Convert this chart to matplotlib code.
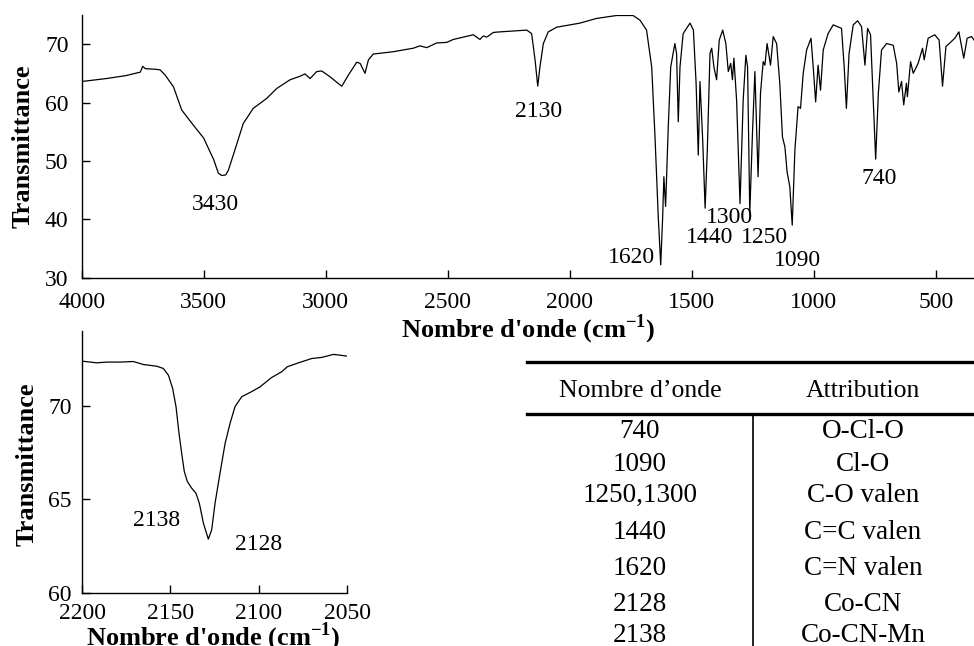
import numpy as np
import matplotlib
matplotlib.use('Agg')
import matplotlib.pyplot as plt
from matplotlib.lines import Line2D

# ── FONTS ─────────────────────────────────────────────────────────
plt.rcParams['font.family'] = ['Liberation Serif', 'DejaVu Serif']
plt.rcParams['mathtext.fontset'] = 'custom'
plt.rcParams['mathtext.rm'] = 'Liberation Serif'
plt.rcParams['mathtext.bf'] = 'Liberation Serif:bold'

# ── DATA: full IR spectrum ────────────────────────────────────────
wn_full = [4000, 3900, 3820, 3760, 3750, 3740, 3700, 3679, 3658, 3624, 3590,
           3542, 3500, 3459, 3440, 3426, 3410, 3399, 3372, 3338, 3297, 3242,
           3201, 3146, 3105, 3085, 3064, 3037, 3016, 2982, 2941, 2934, 2907,
           2873, 2859, 2839, 2825, 2805, 2723, 2641, 2614, 2586, 2545, 2504,
           2477, 2395, 2368, 2354, 2340, 2313, 2285, 2176, 2156, 2142, 2131,
           2122, 2108, 2088, 2053, 1958, 1890, 1808, 1740, 1712, 1685, 1664,
           1651, 1637, 1627, 1619, 1614, 1607, 1596, 1586, 1569, 1562, 1555,
           1548, 1535, 1507, 1493, 1482, 1473, 1466, 1455, 1445, 1436, 1425,
           1418, 1409, 1398, 1387, 1373, 1360, 1350, 1340, 1333, 1327, 1316,
           1302, 1289, 1278, 1271, 1262, 1251, 1241, 1228, 1218, 1207, 1200,
           1191, 1177, 1166, 1152, 1139, 1128, 1118, 1109, 1098, 1088, 1077,
           1064, 1054, 1043, 1029, 1011, 1002, 992, 982, 972, 961, 941, 920,
           886, 875, 866, 855, 838, 820, 804, 790, 779, 767, 756, 746, 735,
           722, 701, 674, 660, 651, 640, 631, 620, 616, 603, 592, 572, 554,
           547, 531, 504, 486, 472, 458, 442, 422, 405, 385, 371, 353, 343]
tr_full = [63.6, 64.1, 64.6, 65.2, 66.2, 65.8, 65.7, 65.6, 64.7, 62.7, 58.7,
           56.1, 53.9, 50.2, 47.9, 47.5, 47.6, 48.4, 51.9, 56.4, 59.0, 60.7,
           62.4, 63.9, 64.5, 64.9, 64.1, 65.3, 65.4, 64.4, 63.0, 62.8, 64.7,
           66.9, 66.7, 65.0, 67.3, 68.3, 68.7, 69.3, 69.7, 69.4, 70.2, 70.3,
           70.8, 71.6, 70.8, 71.4, 71.2, 72.0, 72.1, 72.4, 71.8, 67.3, 62.8,
           66.1, 70.1, 72.1, 72.9, 73.6, 74.4, 74.9, 74.9, 74.1, 72.4, 66.1,
           54.7, 40.4, 32.2, 40.4, 47.3, 42.2, 55.9, 66.1, 70.1, 68.4, 56.7,
           66.1, 71.8, 73.6, 72.4, 63.3, 51.0, 63.6, 53.6, 41.9, 51.9, 68.4,
           69.3, 66.1, 63.9, 70.7, 72.4, 70.1, 65.3, 66.7, 63.9, 67.6, 60.4,
           42.7, 60.4, 68.1, 66.1, 41.0, 54.7, 65.3, 47.3, 61.6, 67.0, 66.4,
           70.1, 66.4, 71.3, 70.1, 63.3, 54.1, 52.4, 48.1, 45.6, 39.0, 51.9,
           59.3, 59.0, 65.0, 69.0, 71.0, 66.1, 60.1, 66.4, 62.1, 69.0, 71.8,
           73.3, 72.7, 66.1, 59.0, 68.4, 73.3, 74.0, 73.0, 66.4, 72.7, 71.6,
           60.4, 50.3, 61.6, 69.0, 70.1, 69.8, 66.7, 61.8, 63.6, 59.6, 63.3,
           61.0, 67.0, 65.0, 66.7, 69.3, 67.3, 71.0, 71.6, 70.7, 62.8, 69.6,
           70.2, 71.0, 72.1, 67.6, 71.0, 71.3, 70.7]

peak_labels = ['3430', '2130', '1620', '1440', '1300', '1250', '1090', '740']
peak_label_x = [3453, 2129, 1746, 1425, 1346, 1200, 1068, 731]
peak_label_y = [42.6, 58.5, 33.4, 36.9, 40.3, 36.9, 33.0, 47.0]

# ── DATA: zoom on the C≡N band ────────────────────────────────────
wn_zoom = [2200, 2191.7, 2186, 2178.5, 2171, 2165.3, 2157.7, 2154, 2151.1,
           2148.7, 2146.8, 2145.1, 2143.6, 2142.1, 2140.4, 2137.9, 2135.5,
           2133.6, 2131.3, 2128.5, 2126.6, 2124.7, 2121.9, 2119.0, 2116.2,
           2113.4, 2109.6, 2104, 2099.2, 2092.6, 2087, 2083.8, 2077.5, 2070,
           2064.3, 2057.7, 2054, 2050.2]
tr_zoom = [72.39, 72.30, 72.34, 72.34, 72.37, 72.21, 72.12, 72.0, 71.64,
           70.93, 69.96, 68.53, 67.47, 66.49, 65.96, 65.6, 65.33, 64.8, 63.73,
           62.88, 63.38, 64.8, 66.4, 68.0, 69.07, 69.96, 70.49, 70.76, 71.02,
           71.52, 71.82, 72.09, 72.3, 72.53, 72.59, 72.75, 72.71, 72.66]

zoom_labels = ['2138', '2128']
zoom_label_x = [2158, 2100]
zoom_label_y = [63.9, 62.6]

# ── DATA: attribution table ───────────────────────────────────────
table_header = ['Nombre d\u2019onde', 'Attribution']
table_wn = ['740', '1090', '1250,1300', '1440', '1620', '2128', '2138']
table_attr = ['O-Cl-O', 'Cl-O', 'C-O valen', 'C=C valen', 'C=N valen',
              'Co-CN', 'Co-CN-Mn']

xlabel = r"Nombre d'onde (cm$^{\mathbf{-1}}$)"

fig = plt.figure(figsize=(9.74, 6.46), dpi=100)


def style_axes(ax, xpad, ypad):
    for s in ['top', 'right']:
        ax.spines[s].set_visible(False)
    for s in ['left', 'bottom']:
        ax.spines[s].set_linewidth(1.0)
    ax.tick_params(direction='in', length=6, width=1.0, labelsize=17)
    ax.tick_params(axis='x', pad=xpad)
    ax.tick_params(axis='y', pad=ypad)


# ── MAIN SPECTRUM ─────────────────────────────────────────────────
ax1 = fig.add_axes([0.0839, 0.5701, 0.9161, 0.4068])
ax1.plot(wn_full, tr_full, color='black', linewidth=0.9)
ax1.set_xlim(4000, 343)
ax1.set_ylim(30, 75)
ax1.set_xticks([4000, 3500, 3000, 2500, 2000, 1500, 1000, 500])
ax1.set_yticks([30, 40, 50, 60, 70])
style_axes(ax1, 10, 9.5)
for lab, x, y in zip(peak_labels, peak_label_x, peak_label_y):
    ax1.text(x, y, lab, fontsize=17, ha='center', va='center')
ax1.set_ylabel('Transmittance', fontsize=19, fontweight='bold', va='center')
ax1.yaxis.set_label_coords(-0.066, 0.5)
ax1.set_xlabel(xlabel, fontsize=19, fontweight='bold', va='center')
ax1.xaxis.set_label_coords(0.5, -0.195)

# ── INSET ZOOM ────────────────────────────────────────────────────
ax2 = fig.add_axes([0.0842, 0.0820, 0.2721, 0.4056])
ax2.plot(wn_zoom, tr_zoom, color='black', linewidth=0.9)
ax2.set_xlim(2200, 2050)
ax2.set_ylim(60, 74)
ax2.set_xticks([2200, 2150, 2100, 2050])
ax2.set_yticks([60, 65, 70])
style_axes(ax2, 7, 7.4)
for lab, x, y in zip(zoom_labels, zoom_label_x, zoom_label_y):
    ax2.text(x, y, lab, fontsize=17, ha='center', va='center')
ax2.set_ylabel('Transmittance', fontsize=19, fontweight='bold', va='center')
ax2.yaxis.set_label_coords(-0.209, 0.49)
ax2.set_xlabel(xlabel, fontsize=19, fontweight='bold', va='center')
ax2.xaxis.set_label_coords(0.495, -0.167)

# ── TABLE ─────────────────────────────────────────────────────────
tx0, tx1, txmid = 0.541, 1.0, 0.7731
y_top, y_head_line = 0.4396, 0.3591
fig.add_artist(Line2D([tx0, tx1], [y_top, y_top], color='black', linewidth=2.4))
fig.add_artist(Line2D([tx0, tx1], [y_head_line, y_head_line],
                      color='black', linewidth=2.4))
fig.add_artist(Line2D([txmid, txmid], [y_head_line, 0.0],
                      color='black', linewidth=1.2))
col_x = [0.657, 0.886]
fig.text(col_x[0], 0.3947, table_header[0], fontsize=18.5, ha='center', va='center')
fig.text(col_x[1], 0.3947, table_header[1], fontsize=18.5, ha='center', va='center')
row_y = [0.3317, 0.2817, 0.2327, 0.1760, 0.1203, 0.0650, 0.0170]
for wn, attr, y in zip(table_wn, table_attr, row_y):
    fig.text(col_x[0], y, wn, fontsize=19.5, ha='center', va='center')
    fig.text(col_x[1], y, attr, fontsize=19.5, ha='center', va='center')

fig.savefig('out.png', dpi=100)
